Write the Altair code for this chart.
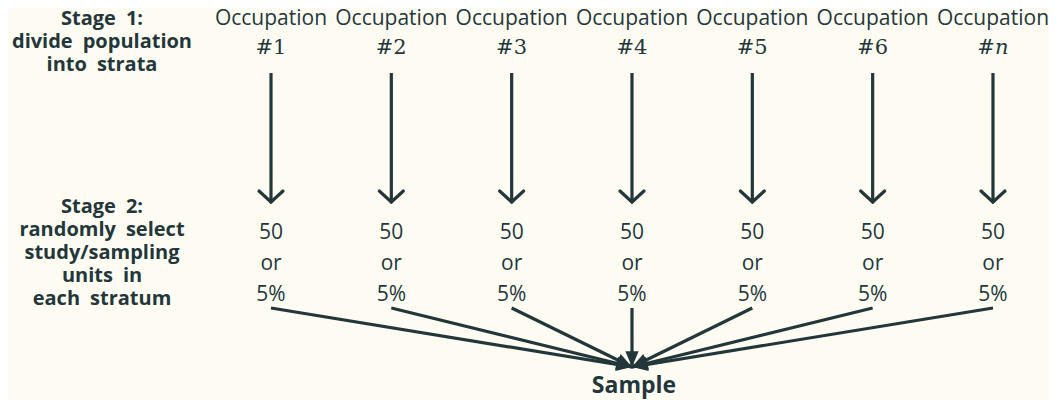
import math
import altair as alt
import pandas as pd

# ---------------- data ----------------
occupation_word = "Occupation"
occupation_ids = ["1", "2", "3", "4", "5", "6", "n"]
quota_lines = ["50", "or", "5%"]
stage1_lines = ["Stage\u20021:", "divide\u2002population", "into\u2002strata"]
stage2_lines = ["Stage\u20022:", "randomly\u2002select", "study/sampling", "units\u2002in", "each\u2002stratum"]
sample_label = "Sample"

# ---------------- layout / style ----------------
INK = "#23373B"
BG = "#FEFCF2"
SANS = "Open Sans"
SERIF = "DejaVu Serif"

COL0, STEP = 271, 120.33
cols = [COL0 + i * STEP for i in range(len(occupation_ids))]
SAMPLE_X = cols[3]
LABEL_X = 102

Y_OCC, Y_ID = 25, 54
Y_SHAFT_TOP, Y_TIP, Y_WING = 73, 202, 191
WING = 12
Y_QUOTA, QUOTA_STEP = 239, 31
Y_FAN_START, Y_FAN_TIP = 308, 367
Y_STAGE1, Y_STAGE2, LINE_STEP = 25, 213, 23
Y_SAMPLE = 393

xs = alt.Scale(domain=[8, 1049], nice=False, zero=False)
ys = alt.Scale(domain=[8, 400], nice=False, zero=False, reverse=True)


def X(f="x"):
    return alt.X(f"{f}:Q", scale=xs, axis=None)


def Y(f="y"):
    return alt.Y(f"{f}:Q", scale=ys, axis=None)


# occupation headings
occ = pd.DataFrame({"x": cols, "y": Y_OCC, "t": occupation_word})
occ_layer = alt.Chart(occ).mark_text(font=SANS, fontSize=21, color=INK, baseline="alphabetic", align="center").encode(
    x=X(), y=Y(), text="t:N")

hash_df = pd.DataFrame({"x": [c + 2 for c in cols], "y": Y_ID, "t": "#"})
hash_layer = alt.Chart(hash_df).mark_text(font=SERIF, fontSize=21, color=INK, baseline="alphabetic", align="right").encode(
    x=X(), y=Y(), text="t:N")

num_df = pd.DataFrame({"x": [c + 2 for c in cols[:-1]], "y": Y_ID, "t": occupation_ids[:-1]})
num_layer = alt.Chart(num_df).mark_text(font=SERIF, fontSize=21, color=INK, baseline="alphabetic", align="left").encode(
    x=X(), y=Y(), text="t:N")

n_df = pd.DataFrame({"x": [cols[-1] + 2], "y": Y_ID, "t": occupation_ids[-1:]})
n_layer = alt.Chart(n_df).mark_text(font=SERIF, fontSize=21, fontStyle="italic", color=INK, baseline="alphabetic",
                                    align="left").encode(x=X(), y=Y(), text="t:N")

# vertical arrows
shaft = pd.DataFrame({"x": cols, "y": Y_SHAFT_TOP, "y2": Y_TIP})
shaft_layer = alt.Chart(shaft).mark_rule(color=INK, strokeWidth=3.2).encode(x=X(), y=Y(), y2=alt.Y2("y2:Q"))

wings = pd.DataFrame(
    [{"x": c, "y": Y_TIP, "x2": c + s * WING, "y2": Y_WING} for c in cols for s in (-1, 1)])
wing_layer = alt.Chart(wings).mark_rule(color=INK, strokeWidth=3.2, strokeCap="round").encode(
    x=X(), y=Y(), x2=alt.X2("x2:Q"), y2=alt.Y2("y2:Q"))

# quota text
quota = pd.DataFrame(
    [{"x": c, "y": Y_QUOTA + i * QUOTA_STEP, "t": t} for c in cols for i, t in enumerate(quota_lines)])
quota_layer = alt.Chart(quota).mark_text(font=SANS, fontSize=21, color=INK, baseline="alphabetic", align="center").encode(
    x=X(), y=Y(), text="t:N")

# fan-in arrows
fan = pd.DataFrame({"x": cols, "y": Y_FAN_START, "x2": SAMPLE_X, "y2": Y_FAN_TIP})
fan_layer = alt.Chart(fan).mark_rule(color=INK, strokeWidth=3.2).encode(
    x=X(), y=Y(), x2=alt.X2("x2:Q"), y2=alt.Y2("y2:Q"))

heads = pd.DataFrame({
    "x": SAMPLE_X,
    "y": Y_FAN_TIP,
    "angle": [(math.degrees(math.atan2(-(SAMPLE_X - c), (Y_FAN_TIP - Y_FAN_START))) + 360) % 360 for c in cols],
})
head_layer = alt.Chart(heads).mark_point(
    shape="M0,0 L-0.42,-1 L0.42,-1 Z", filled=True, size=1000, color=INK, opacity=1, strokeWidth=0
).encode(x=X(), y=Y(), angle=alt.Angle("angle:Q", scale=None))

# stage labels
stage = pd.DataFrame(
    [{"x": LABEL_X, "y": Y_STAGE1 + i * LINE_STEP, "t": t} for i, t in enumerate(stage1_lines)]
    + [{"x": LABEL_X, "y": Y_STAGE2 + i * LINE_STEP, "t": t} for i, t in enumerate(stage2_lines)])
stage_layer = alt.Chart(stage).mark_text(font=SANS, fontSize=20, fontWeight="bold", color=INK, baseline="alphabetic",
                                         align="center").encode(x=X(), y=Y(), text="t:N")

sample = pd.DataFrame({"x": [SAMPLE_X + 2], "y": [Y_SAMPLE], "t": [sample_label]})
sample_layer = alt.Chart(sample).mark_text(font=SANS, fontSize=23, fontWeight="bold", color=INK, baseline="alphabetic",
                                           align="center").encode(x=X(), y=Y(), text="t:N")

chart = alt.layer(
    shaft_layer, wing_layer, fan_layer, head_layer,
    occ_layer, hash_layer, num_layer, n_layer, quota_layer, stage_layer, sample_layer,
).properties(
    width=1041, height=392, background=BG, padding=0, autosize=alt.AutoSizeParams(type="none"),
    usermeta={"embedOptions": {"defaultStyle": "html, body { background: %s; }" % BG}},
).configure_view(stroke=None)

chart.save("out.html", embed_options={"renderer": "svg", "actions": False})
